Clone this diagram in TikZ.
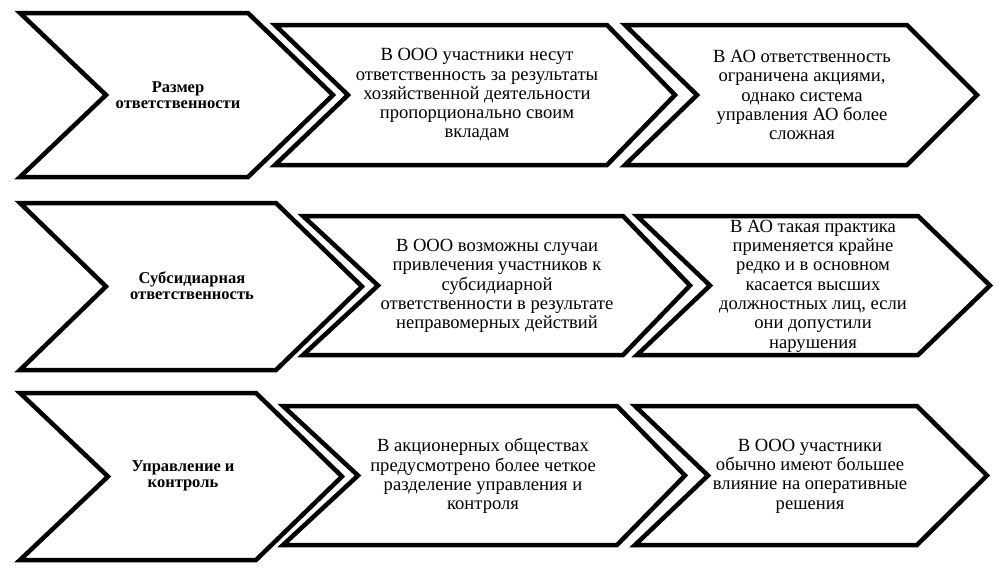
\documentclass[tikz,border=0pt]{standalone}
\usepackage{fontspec}
\setmainfont{Liberation Serif}
\begin{document}
\begin{tikzpicture}[x=1pt,y=-1pt,
  chevshape/.style={draw=black,fill=white,line width=4.5pt,line join=miter},
  titletext/.style={align=center,inner sep=0pt,font=\fontsize{16.5}{16.2}\selectfont\bfseries},
  bodytext/.style={align=center,inner sep=0pt,font=\fontsize{18.6}{19.3}\selectfont}]
\useasboundingbox (0,0) rectangle (1003,576);
\newcommand\chev[6]{\draw[chevshape] (#1,#5) -- (#3,#5) -- (#4,{(#5+#6)/2}) -- (#3,#6) -- (#1,#6) -- (#2,{(#5+#6)/2}) -- cycle;}
% row 1
\chev{20}{106}{248}{333}{13}{177}
\chev{275}{348}{607}{675}{25}{165}
\chev{625}{697}{907}{977}{25}{165}
% row 2
\chev{20}{106}{276}{362}{203}{370}
\chev{303}{378}{623}{690}{216}{355}
\chev{637}{710}{918}{990}{216}{355}
% row 3
\chev{20}{108}{256}{342}{393}{560}
\chev{283}{358}{617}{685}{406}{545}
\chev{635}{708}{917}{987}{406}{545}
% texts
\node[titletext] (t1a) at (178,95) {Размер\\ответственности};
\node[bodytext] (t1b) at (477,95) {В ООО участники несут\\ответственность за результаты\\хозяйственной деятельности\\пропорционально своим\\вкладам};
\node[bodytext] (t1c) at (802,95) {В АО ответственность\\ограничена акциями,\\однако система\\управления АО более\\сложная};
\node[titletext] (t2a) at (192,286) {Субсидиарная\\ответственность};
\node[bodytext] (t2b) at (497,286) {В ООО возможны случаи\\привлечения участников к\\субсидиарной\\ответственности в результате\\неправомерных действий};
\node[bodytext] (t2c) at (813,286) {В АО такая практика\\применяется крайне\\редко и в основном\\касается высших\\должностных лиц, если\\они допустили\\нарушения};
\node[titletext] (t3a) at (183,476) {Управление и\\контроль};
\node[bodytext] (t3b) at (483,476) {В акционерных обществах\\предусмотрено более четкое\\разделение управления и\\контроля};
\node[bodytext] (t3c) at (810,476) {В ООО участники\\обычно имеют большее\\влияние на оперативные\\решения};
\end{tikzpicture}
\end{document}
